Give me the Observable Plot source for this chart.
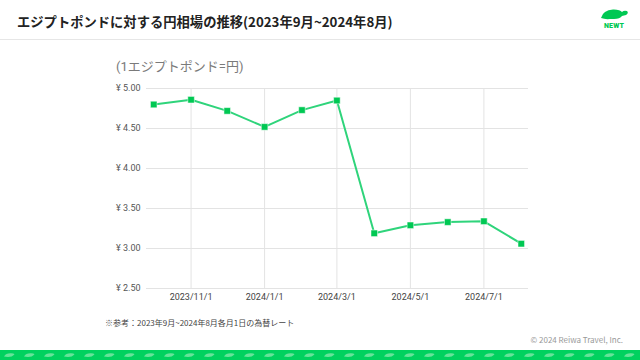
<!DOCTYPE html>
<html>
<head>
<meta charset="utf-8">
<script src="https://cdn.jsdelivr.net/npm/d3@7"></script>
<script src="https://cdn.jsdelivr.net/npm/@observablehq/plot@0.6"></script>
<style>
  html, body { margin: 0; padding: 0; background: #fff; }
  #root { position: relative; width: 640px; height: 360px; overflow: hidden; background: #fff; font-family: "Noto Sans CJK JP", "Noto Sans", sans-serif; }
  #title { position: absolute; left: 17px; top: 12px; font-size: 13.3px; font-weight: 700; color: #222; white-space: nowrap; line-height: 20px; }
  #divider { position: absolute; left: 0; top: 39px; width: 640px; height: 1px; background: #e6e6e6; }
  #logo { position: absolute; left: 598px; top: 7px; width: 32px; height: 28px; }
  #logo svg { position: absolute; left: 0; top: 0; display: block; }
  #logo .txt { position: absolute; left: 0; top: 15px; width: 32px; text-align: center; font-family: Roboto, "Liberation Sans", sans-serif; font-weight: 900; font-size: 7px; line-height: 8px; color: #00c853; letter-spacing: 0.2px; }
  #subtitle { position: absolute; left: 116px; top: 58px; font-size: 13px; color: #7a7a7a; white-space: nowrap; line-height: 18px; font-family: Roboto, "Noto Sans CJK JP", sans-serif; }
  #chart { position: absolute; left: 0; top: 75px; }
  #note { position: absolute; left: 105px; top: 317px; font-size: 8px; color: #444; white-space: nowrap; line-height: 12px; font-family: "Noto Sans CJK JP", sans-serif; }
  #note .mark { font-family: "Noto Sans CJK JP", "DejaVu Sans", sans-serif; font-variant-emoji: text; color: #555; }
  #copy { position: absolute; right: 17px; top: 334px; font-size: 8px; color: #999; white-space: nowrap; line-height: 12px; }
  #band { position: absolute; left: 0; top: 350px; width: 640px; height: 10px; background-color: #00d15f;
    background-image: url("data:image/svg+xml;utf8,<svg xmlns='http://www.w3.org/2000/svg' width='20' height='10'><path d='M4 6.5 Q6 3 11 3.2 Q14 3.3 14.5 4.5 Q12 7 8 7 Z' fill='%2366e39a'/></svg>");
    background-repeat: repeat-x; background-position: 0 0; }
</style>
</head>
<body>
<div id="root">
  <div id="title">エジプトポンドに対する円相場の推移(2023年9月~2024年8月)</div>
  <div id="logo">
    <svg width="32" height="13" viewBox="0 0 32 13">
      <path d="M3 11 Q5 3 15 2.5 Q22 2.3 24 5 Q26 3 29 4 Q31 6 28 8 L24 9 Q22 12 16 12 L12 12 Q7 12.5 3 11 Z" fill="#00c853"/>
    </svg>
    <div class="txt">NEWT</div>
  </div>
  <div id="divider"></div>
  <div id="subtitle">(1エジプトポンド=円)</div>
  <div id="chart"></div>
  <div id="note"><span class="mark">※&#xFE0E;</span>参考：2023年9月~2024年8月各月1日の為替レート</div>
  <div id="copy">© 2024 Reiwa Travel, Inc.</div>
  <div id="band"></div>
</div>
<script>
// Data (rate in yen per 1 Egyptian pound, first of each month)
const dates = ["2023-10-01","2023-11-01","2023-12-01","2024-01-01","2024-02-01","2024-03-01","2024-04-01","2024-05-01","2024-06-01","2024-07-01","2024-08-01"];
const rates = [4.80, 4.86, 4.72, 4.52, 4.73, 4.85, 3.19, 3.29, 3.33, 3.34, 3.06];
const yTicks = [2.5, 3, 3.5, 4, 4.5, 5];
const xTicks = ["2023-11-01","2024-01-01","2024-03-01","2024-05-01","2024-07-01"];
const xDomain = ["2023-09-25","2024-08-07"];

const data = dates.map((d, i) => ({date: new Date(d + "T00:00:00Z"), rate: rates[i]}));
const xTickDates = xTicks.map(d => new Date(d + "T00:00:00Z"));
const fmtDate = d3.utcFormat("%Y/%-m/%-d");

const chart = Plot.plot({
  width: 640,
  height: 234,
  marginTop: 13,
  marginBottom: 21,
  marginLeft: 146,
  marginRight: 112,
  style: {fontFamily: "Roboto, 'Liberation Sans', sans-serif", fontSize: "9px", color: "#444", background: "transparent", overflow: "visible"},
  x: {type: "utc", domain: xDomain.map(d => new Date(d + "T00:00:00Z"))},
  y: {domain: [2.5, 5]},
  marks: [
    Plot.gridY(yTicks, {stroke: "#e3e3e3", strokeOpacity: 1, strokeWidth: 1}),
    Plot.gridX(xTickDates, {stroke: "#e3e3e3", strokeOpacity: 1, strokeWidth: 1}),
    Plot.axisY(yTicks, {tickSize: 0, tickPadding: 6, tickFormat: d => "¥ " + d.toFixed(2), label: null, fill: "#555"}),
    Plot.axisX(xTickDates, {tickSize: 0, tickPadding: 5, tickFormat: fmtDate, label: null, fill: "#444"}),
    Plot.line(data, {x: "date", y: "rate", stroke: "#2fd47b", strokeWidth: 2}),
    Plot.dot(data, {x: "date", y: "rate", symbol: "square", r: 3.7, fill: "#00c853", stroke: "#ffffff", strokeWidth: 0.5})
  ]
});
document.getElementById("chart").appendChild(chart);
</script>
</body>
</html>
